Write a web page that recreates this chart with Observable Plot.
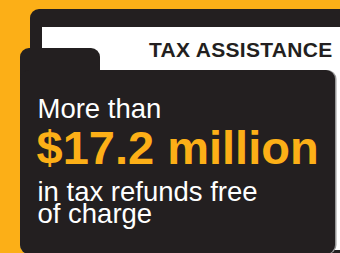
<!DOCTYPE html>
<html>
<head>
<meta charset="utf-8">
<script src="https://cdn.jsdelivr.net/npm/d3@7"></script>
<script src="https://cdn.jsdelivr.net/npm/@observablehq/plot@0.6"></script>
<style>
  html, body { margin: 0; padding: 0; background: #FCAF17; overflow: hidden; }
  svg { display: block; }
</style>
</head>
<body>
<div id="chart"></div>
<script>
// ---- data ----
const headerLabel = ["TAX ASSISTANCE"];
const leadText = ["More than"];
const amountValue = [17.2];
const amountUnit = ["million"];
const captionLines = ["in tax refunds free", "of charge"];

// ---- layout (pixel positions on identity scales) ----
const W = 340, H = 253;
const orange = "#FCAF17", dark = "#231F20";
const shapes = [
  {x1: 30, x2: 380, y1: 9, y2: 300, fill: dark, r: 9},      // back folder
  {x1: 42, x2: 380, y1: 27, y2: 250, fill: "#ffffff", r: 0}, // paper
  {x1: 20, x2: 336.5, y1: 70, y2: 254, fill: "#9a9a9a", r: 9}, // edge shadow
  {x1: 20, x2: 100, y1: 48, y2: 100, fill: dark, r: 9},      // front tab
  {x1: 20, x2: 335, y1: 70, y2: 254, fill: dark, r: 9}       // front body
];
const textRows = [
  {text: headerLabel[0], x: 332, y: 56, size: 21, weight: "bold", fill: dark, anchor: "end", cls: "hdr", lh: 1},
  {text: leadText[0], x: 37, y: 117, size: 27.5, weight: "normal", fill: "#ffffff", anchor: "start", lh: 1},
  {text: `$${amountValue[0]} ${amountUnit[0]}`, x: 36, y: 163, size: 47, weight: "bold", fill: orange, anchor: "start", lh: 1},
  {text: captionLines.join("\n"), x: 37, y: 222, size: 27.5, weight: "normal", fill: "#ffffff", anchor: "start", lh: 0.8}
];

const marks = [];
for (const s of shapes) {
  marks.push(Plot.rect([s], {x1: "x1", x2: "x2", y1: "y1", y2: "y2", fill: s.fill, rx: s.r}));
}
for (const t of textRows) {
  marks.push(Plot.text([t], {
    x: "x", y: "y", text: "text",
    fontSize: t.size, fontWeight: t.weight, fill: t.fill,
    textAnchor: t.anchor, lineAnchor: "bottom", lineHeight: t.lh,
    fontFamily: "Liberation Sans, Arial, Helvetica, sans-serif",
    className: t.cls
  }));
}

const chart = Plot.plot({
  width: W, height: H, margin: 0,
  x: {type: "identity", axis: null},
  y: {type: "identity", axis: null},
  style: {background: orange, overflow: "hidden"},
  marks
});
d3.select(chart).selectAll(".hdr text").attr("letter-spacing", "0.3");
document.getElementById("chart").appendChild(chart);
</script>
</body>
</html>
